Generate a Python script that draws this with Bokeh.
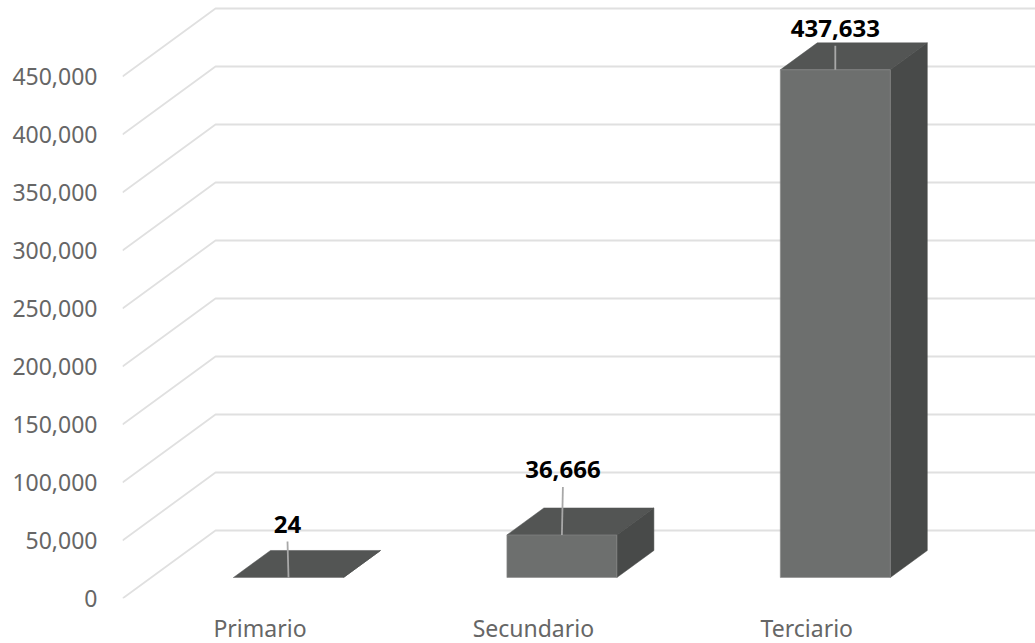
from bokeh.plotting import figure
from bokeh.models import FixedTicker, NumeralTickFormatter, Range1d, ColumnDataSource
from bokeh.core.properties import value
from bokeh.embed import file_html
from bokeh.resources import INLINE

categories = ["Primario", "Secundario", "Terciario"]
series_values = [24, 36666, 437633]
value_labels = ["24", "36,666", "437,633"]
y_ticks = [0, 50000, 100000, 150000, 200000, 250000, 300000, 350000, 400000, 450000]

# styling / geometry (pixels)
W, H = 1035, 643
LEFT, BOTTOM_Y = 122, 598
PX_PER_UNIT_Y = 58 / 50000
X0, DX = 288.0, 273.4
CAT_SHIFT = 28.5
WALL_DX, WALL_DY = 93, 68
BAR_W, DEPTH_X, DEPTH_Y = 110, 37, 27
FLOOR_PX = 21
LEADER = [36, 48, 24]
LABEL = [53, 65, 41]
LABEL_X = [-1, 1, 0]

C_FRONT, C_TOP, C_SIDE = "#6d6f6e", "#535554", "#484a49"
C_GRID, C_LEAD, C_EDGE = "#e0e0e0", "#a8a8a8", "#8c8c8c"
FONT = "Noto Sans"

ux = 1 / DX
uy = 1 / PX_PER_UNIT_Y

p = figure(
    width=W, height=H, output_backend="svg", toolbar_location=None,
    x_range=Range1d((LEFT - X0) * ux, (W - X0) * ux),
    y_range=Range1d(0, BOTTOM_Y * uy),
    frame_width=W - LEFT, frame_height=BOTTOM_Y,
    min_border_left=LEFT, min_border_right=0, min_border_top=0, min_border_bottom=H - BOTTOM_Y,
    outline_line_color=None,
)
p.extra_x_ranges = {"labels": Range1d((LEFT - X0 + CAT_SHIFT) * ux, (W - X0 + CAT_SHIFT) * ux)}
p.grid.visible = False

xl = (LEFT - X0) * ux
xw = xl + WALL_DX * ux
xr = (W - X0) * ux
p.multi_line(
    xs=[[xl, xw, xr] for _ in y_ticks],
    ys=[[v, v + WALL_DY * uy, v + WALL_DY * uy] for v in y_ticks],
    line_color=C_GRID, line_width=1.8,
)

floor = FLOOR_PX * uy
dxd, dyd = DEPTH_X * ux, DEPTH_Y * uy
half = BAR_W / 2 * ux
for i, v in enumerate(series_values):
    x1, x2 = i - half, i + half
    y1, y2 = floor, floor + v
    p.patch([x1, x2, x2 + dxd, x1 + dxd], [y2, y2, y2 + dyd, y2 + dyd],
            fill_color=C_TOP, line_color=C_TOP, line_width=0.5)
    p.patch([x2, x2 + dxd, x2 + dxd, x2], [y1, y1 + dyd, y2 + dyd, y2],
            fill_color=C_SIDE, line_color=C_SIDE, line_width=0.5)
    p.quad(left=x1, right=x2, bottom=y1, top=y2,
           fill_color=C_FRONT, line_color=C_EDGE, line_width=0.6)
    p.segment(x0=i, y0=y2, x1=i + (LABEL_X[i] * ux), y1=y2 + LEADER[i] * uy,
              line_color=C_LEAD, line_width=1.8)

src = ColumnDataSource(dict(
    x=[i + LABEL_X[i] * ux for i in range(3)],
    y=[floor + v + LABEL[i] * uy for i, v in enumerate(series_values)],
    t=value_labels,
))
p.text(x="x", y="y", text="t", source=src, text_align="center", text_baseline="middle",
       text_font=value(FONT), text_font_size="24px", text_font_style="bold", text_color="#000000")

ya = p.yaxis[0]
ya.ticker = FixedTicker(ticks=y_ticks)
ya.formatter = NumeralTickFormatter(format="0,0")
ya.axis_line_color = None
ya.major_tick_line_color = None
ya.minor_tick_line_color = None
ya.major_tick_out = 0
ya.major_tick_in = 0
ya.major_label_standoff = 25
ya.major_label_text_font = FONT
ya.major_label_text_font_size = "23px"
ya.major_label_text_color = "#666666"

xa = p.xaxis[0]
xa.x_range_name = "labels"
xa.ticker = FixedTicker(ticks=[0, 1, 2])
xa.major_label_overrides = {i: c for i, c in enumerate(categories)}
xa.axis_line_color = None
xa.major_tick_line_color = None
xa.minor_tick_line_color = None
xa.major_tick_out = 0
xa.major_tick_in = 0
xa.major_label_standoff = 13
xa.major_label_text_font = FONT
xa.major_label_text_font_size = "23px"
xa.major_label_text_color = "#666666"

open("out.html", "w").write(file_html(p, INLINE))
